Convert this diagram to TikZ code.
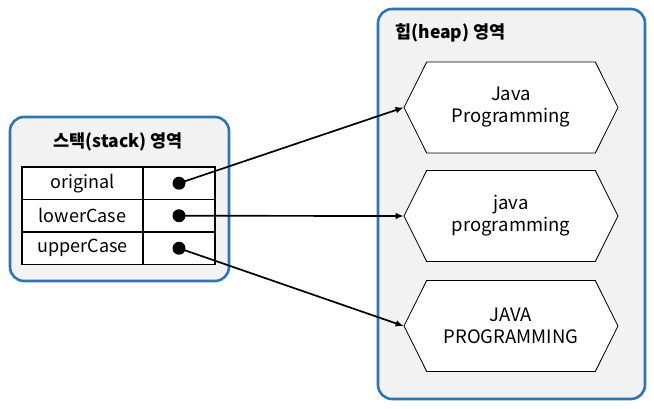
\documentclass[tikz,border=0pt]{standalone}
\usepackage{fontspec}
\setmainfont{Noto Sans CJK KR}
\usetikzlibrary{arrows.meta, shapes.symbols, positioning}
\definecolor{areablue}{HTML}{2E75B6}
\definecolor{areafill}{HTML}{F2F2F2}
\tikzset{%
>={Latex[width=2.4mm,length=2.8mm]},
  % Specifications for style of nodes:
            area/.style = {draw=areablue, line width=2.6pt, fill=areafill,
                            rounded corners=14pt},
            title/.style = {font=\fontsize{17.5}{20}\selectfont\bfseries},
            namecell/.style = {draw=black, line width=1.6pt, fill=white,
                            minimum width=121pt, minimum height=32.5pt,
                            inner sep=0pt, outer sep=0pt,
                            font=\fontsize{18}{22}\selectfont},
            refcell/.style = {namecell, minimum width=72pt},
            dot/.style = {circle, fill=black, minimum size=13pt, inner sep=0pt},
            value/.style = {signal, signal to=east and west,
                            signal pointer angle=127, draw=black, line width=0.8pt,
                            fill=white, minimum width=214pt, minimum height=91pt,
                            inner sep=0pt, align=center,
                            font=\fontsize{18.5}{22}\selectfont},
            ref/.style = {->, line width=1.7pt}
}
\begin{document}
\begin{tikzpicture}[x=1pt, y=-1pt]
\useasboundingbox (0,0) rectangle (654,409);
                        % stack area
                        \draw[area] (10,117) rectangle (229,281);
                        \node[title] (stacktitle) at (118,142) {스택(stack) 영역};
                        \node[namecell] (orig) at (82.5,183.25) {original};
                        \node[namecell, below=0pt of orig] (lower) {lowerCase};
                        \node[namecell, below=0pt of lower] (upper) {upperCase};
                        \node[refcell, right=0pt of orig] (origref) {};
                        \node[refcell, right=0pt of lower] (lowerref) {};
                        \node[refcell, right=0pt of upper] (upperref) {};
                        \node[dot] (origdot) at (origref.center) {};
                        \node[dot] (lowerdot) at (lowerref.center) {};
                        \node[dot] (upperdot) at (upperref.center) {};
                        % heap area
                        \draw[area] (378,9) rectangle (645,399);
                        \node[title, anchor=west] (heaptitle) at (392,33) {힙(heap) 영역};
                        \node[value] (origval) at (511,107.5) {Java\\Programming};
                        \node[value] (lowerval) at (511,216) {java\\programming};
                        \node[value] (upperval) at (511,326) {JAVA\\PROGRAMMING};
                        \draw[ref] (origdot.center) -- (origval.west);
                        \draw[ref] (lowerdot.center) -- (lowerval.west);
                        \draw[ref] (upperdot.center) -- (upperval.west);
                    \end{tikzpicture}
\end{document}
